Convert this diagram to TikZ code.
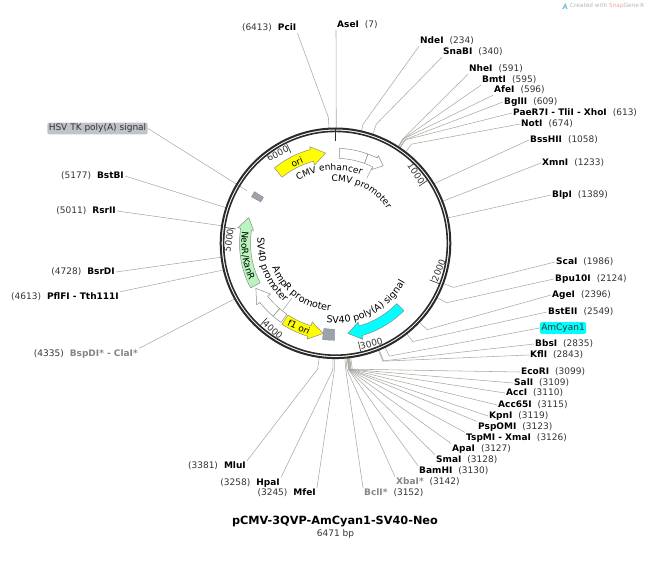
\documentclass[tikz,border=0pt]{standalone}
\usepackage{fontspec}
\setmainfont{DejaVu Sans}
\usetikzlibrary{
  calc,
  decorations.text,
}
\definecolor{ringdark}{HTML}{2B2B2B}
\definecolor{leader}{HTML}{A9A9A2}
\definecolor{featline}{HTML}{8C8C8C}
\definecolor{enzgray}{HTML}{858585}
\definecolor{numtext}{HTML}{333333}
\definecolor{oriyellow}{HTML}{FFFF00}
\definecolor{cyanfill}{HTML}{00FFFF}
\definecolor{neogreen}{HTML}{B9F5BC}
\definecolor{tagslate}{HTML}{9CA3AE}
\definecolor{hsvtag}{HTML}{C0C3C8}
\definecolor{wmgray}{HTML}{B5B5B5}
\definecolor{wmred}{HTML}{F2A6A0}
\definecolor{wmblue}{HTML}{7CC4E4}
\tikzset{
  font=\fontsize{9}{11}\selectfont,
  enzyme/.style={inner sep=1pt, text=numtext},
  conn/.style={draw=leader, line width=0.55pt, line join=round},
  feat/.style={draw=featline, line width=0.5pt, line join=round},
  blank/.style={feat, fill=white},
  tick/.style={draw=ringdark, line width=0.6pt},
  ticklabel/.style={inner sep=0.5pt, text=black!80},
  tag/.style={rounded corners=2pt, inner sep=1.5pt},
  arctext/.style={decorate, decoration={text along path, text align=center, text={#1}}},
}
\def\fa{\fontsize{9}{11}\selectfont}
\def\fb{\fontsize{9.6}{11}\selectfont}

\begin{document}
\begin{tikzpicture}[x=1pt,y=1pt]
  \useasboundingbox (0,0) rectangle (649,565);
  \coordinate (ctr) at (335.5,321.7);

  % Enzyme sites, right of their labels' anchors
  \foreach \id/\nm/\bp/\xx/\yy/\anc/\stub/\col in {
    asei/AseI/7/336/540/south west/116/black,
    ndei/NdeI/234/419/524/south west/122/black,
    snabi/SnaBI/340/442/513/south west/126/black,
    nhei/NheI/591/468/496/south west/125/black,
    bmti/BmtI/595/481/485/south west/125/black,
    afei/AfeI/596/493/475/south west/125/black,
    bglii/BglII/609/503/463/west/125/black,
    paer/PaeR7I - TliI - XhoI/613/512/452/west/125/black,
    noti/NotI/674/520/441/west/125/black,
    bsshii/BssHII/1058/529/425/west/116/black,
    xmni/XmnI/1233/541/402/west/116/black,
    blpi/BlpI/1389/551/370/west/116/black,
    scai/ScaI/1986/555/303/west/126/black,
    bpui/Bpu10I/2124/554/286/west/126/black,
    agei/AgeI/2396/551/270/west/126/black,
    bsteii/BstEII/2549/547/253/west/125/black,
    bbsi/BbsI/2835/534/221/west/127/black,
    kfli/KflI/2843/529/210/west/127/black,
    ecori/EcoRI/3099/520/193/west/127/black,
    sali/SalI/3109/513/182/west/127/black,
    acci/AccI/3110/505/172/west/127/black,
    accsf/Acc65I/3115/497/160/west/127/black,
    kpni/KpnI/3119/488/149/west/127/black,
    pspomi/PspOMI/3123/477/138/north west/127/black,
    tspmi/TspMI - XmaI/3126/465/127/north west/127/black,
    apai/ApaI/3127/451/116/north west/127/black,
    smai/SmaI/3128/435/105/north west/127/black,
    bamhi/BamHI/3130/418/94/north west/127/black,
    xbai/XbaI*/3142/395/83/north west/127/enzgray,
    bcli/BclI*/3152/363/72/north west/127/enzgray} {
    \pgfmathsetmacro{\ang}{90-\bp/6471*360}
    \node[enzyme,anchor=west] (\id) at (\xx,\yy)
      {\textcolor{\col}{\bfseries\nm}\hspace{6pt}(\bp)};
    \coordinate (\id r) at ($(ctr)+(\ang:115)$);
    \coordinate (\id e) at ($(ctr)+(\ang:\stub)$);
    \draw[conn] (\id.\anc) -- (\id e) -- (\id r);
  }

  % Sites labelled on the left
  \foreach \id/\nm/\bp/\xx/\yy/\anc/\stub/\col in {
    pcii/PciI/6413/297.5/537/south east/126/black,
    bstbi/BstBI/5177/125/389/east/116/black,
    rsrii/RsrII/5011/117/354/east/116/black,
    bsrdi/BsrDI/4728/116/293/east/116/black,
    pflfi/PflFI - Tth111I/4613/120/268/north east/116/black,
    bspdi/BspDI* - ClaI*/4335/139/211/north east/116/enzgray,
    mlui/MluI/3381/247/99/north east/127/black,
    hpai/HpaI/3258/281/82/north east/127/black,
    mfei/MfeI/3245/317/72/north east/127/black} {
    \pgfmathsetmacro{\ang}{90-\bp/6471*360}
    \node[enzyme,anchor=east] (\id) at (\xx,\yy)
      {(\bp)\hspace{6pt}\textcolor{\col}{\bfseries\nm}};
    \coordinate (\id r) at ($(ctr)+(\ang:115)$);
    \coordinate (\id e) at ($(ctr)+(\ang:\stub)$);
    \draw[conn] (\id.\anc) -- (\id e) -- (\id r);
  }

  % Feature tags outside the ring
  \node[tag,fill=cyanfill,text=numtext] (amcyan) at (563,237) {AmCyan1};
  \coordinate (amcyanr) at ($(ctr)+(-64.5:115)$);
  \coordinate (amcyane) at ($(ctr)+(-64.5:125)$);
  \draw[conn] (amcyan.west) -- (amcyane) -- (amcyanr);
  \node[tag,fill=hsvtag,text=numtext] (hsv) at (97.5,436.5) {HSV TK poly(A) signal};
  \coordinate (hsvend) at ($(ctr)+(149.3:103)$);
  \draw[conn] (hsv.east) -- (hsvend);

  % Backbone
  \draw[ringdark,line width=2pt] (ctr) circle (114.8);
  \draw[ringdark,line width=1.6pt] (ctr) circle (111.9);
  \draw[ringdark,line width=1.3pt] ($(ctr)+(90:115)$) -- ($(ctr)+(90:102)$);

  \foreach \lab/\rot/\anc in {1000/-55.6/east,2000/68.7/west,3000/13.1/west,
      4000/-42.5/west,5000/81.8/east,6000/26.2/east} {
    \pgfmathsetmacro{\ang}{90-\lab/6471*360}
    \draw[tick] ($(ctr)+(\ang:111)$) -- ($(ctr)+(\ang:101)$);
    \node[ticklabel,rotate=\rot,anchor=\anc] (tick\lab) at ($(ctr)+(\ang:106)$) {\lab};
  }

  \begin{scope}[shift={(ctr)}]
    % ori
    \draw[feat,fill=oriyellow] (129:97) arc[start angle=129,end angle=105,radius=97]
      -- (105:100) -- (96.3:90.8) -- (105:81) -- (105:85)
      arc[start angle=105,end angle=129,radius=85] -- cycle;
    % f1 ori
    \draw[feat,fill=oriyellow] (-123.5:97) arc[start angle=-123.5,end angle=-106.5,radius=97]
      -- (-106.5:100) -- (-97.8:91) -- (-106.5:82) -- (-106.5:86)
      arc[start angle=-106.5,end angle=-123.5,radius=86] -- cycle;
    % NeoR/KanR
    \draw[feat,fill=neogreen] (-152.3:96) arc[start angle=-152.3,end angle=-189,radius=96]
      -- (-189:99) -- (-196.5:90.5) -- (-189:83) -- (-189:85)
      arc[start angle=-189,end angle=-152.3,radius=85] -- cycle;
    % AmCyan1
    \draw[feat,fill=cyanfill] (-44.5:96) arc[start angle=-44.5,end angle=-74,radius=96]
      -- (-74:100) -- (-82.2:91) -- (-74:82) -- (-74:86)
      arc[start angle=-74,end angle=-44.5,radius=86] -- cycle;
    % SV40 promoter
    \draw[blank] (-130.5:96) arc[start angle=-130.5,end angle=-142,radius=96]
      -- (-142:100) -- (-150.5:91.5) -- (-142:82.5) -- (-142:86)
      arc[start angle=-142,end angle=-130.5,radius=86] -- cycle;
    % AmpR promoter
    \draw[blank] (-124.5:96) arc[start angle=-124.5,end angle=-130.5,radius=96]
      -- (-130.5:86) arc[start angle=-130.5,end angle=-124.5,radius=86] -- cycle;
    % CMV enhancer
    \draw[blank] (87.5:95) arc[start angle=87.5,end angle=70,radius=95]
      -- (70:85) arc[start angle=70,end angle=87.5,radius=85] -- cycle;
    % CMV promoter
    \draw[blank] (70:95) arc[start angle=70,end angle=64,radius=95]
      -- (64:97.5) -- (58.4:91) -- (64:82) -- (64:85)
      arc[start angle=64,end angle=70,radius=85] -- cycle;
    % small terminators
    \draw[feat,fill=tagslate] (151:96) arc[start angle=151,end angle=147.5,radius=96]
      -- (147.5:85.5) arc[start angle=147.5,end angle=151,radius=85.5] -- cycle;
    \draw[feat,fill=tagslate] (-90.7:97) arc[start angle=-90.7,end angle=-97.7,radius=97]
      -- (-97.7:86) arc[start angle=-97.7,end angle=-90.7,radius=86] -- cycle;

    % Curved feature names
    \path[arctext={|\fa|CMV enhancer}] (140:73) arc[start angle=140,end angle=50,radius=73];
    \path[arctext={|\fa|CMV promoter}] (113.5:62) arc[start angle=113.5,end angle=13.5,radius=62];
    \path[arctext={|\fb|SV40 poly(A) signal}] (-113:80) arc[start angle=-113,end angle=-13,radius=80];
    \path[arctext={|\fb|SV40 promoter}] (-207.5:78) arc[start angle=-207.5,end angle=-107.5,radius=78];
    \path[arctext={|\fb|AmpR promoter}] (-176.5:68) arc[start angle=-176.5,end angle=-76.5,radius=68];
    \path[arctext={|\fa|NeoR/KanR}] (-197:94) arc[start angle=-197,end angle=-147,radius=94];
  \end{scope}

  \node[inner sep=0pt,rotate=23] (orilab) at (297,403) {ori};
  \node[inner sep=0pt,rotate=-25] (fonelab) at (299,238) {f1 ori};

  % Short leaders to the promoter names
  \coordinate (cmvfrom) at (371.7,396.7);
  \coordinate (cmvto) at (366.7,386.7);
  \draw[conn] (cmvfrom) -- (cmvto);
  \coordinate (ampfrom) at (283,255);
  \coordinate (ampto) at (291.7,266.7);
  \draw[conn] (ampfrom) -- (ampto);

  % Name and size
  \node[font=\fontsize{11.3}{13}\selectfont\bfseries] (title) at (335,43) {pCMV-3QVP-AmCyan1-SV40-Neo};
  \node[text=numtext] (size) at (335.5,31) {6471 bp};

  % Watermark
  \node[font=\fontsize{5.8}{7}\selectfont,anchor=east,inner sep=0pt] (mark) at (645,559)
    {\textcolor{wmgray}{Created with }\textcolor{wmred}{Snap}\textcolor{wmgray}{Gene®}};
  \fill[wmblue] (562,556) -- (565.5,562) -- (567.5,556) -- (566,556) -- (565.2,558.5) -- (563.5,556) -- cycle;
\end{tikzpicture}
\end{document}
